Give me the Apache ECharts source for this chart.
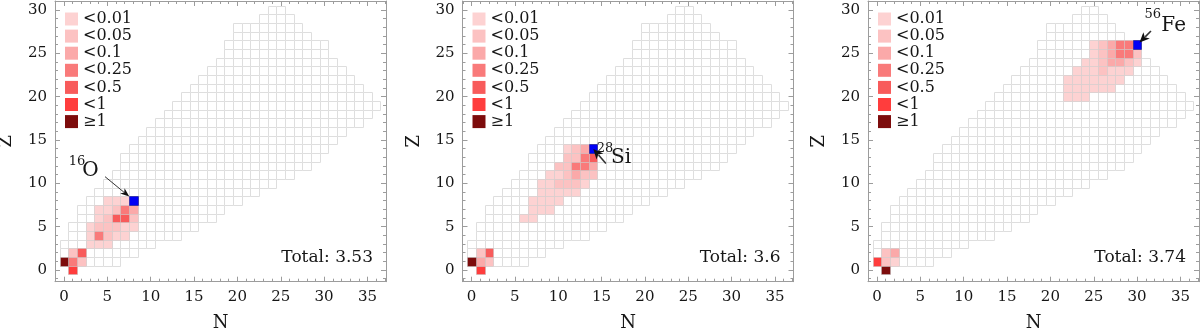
<!DOCTYPE html>
<html><head><meta charset="utf-8">
<script src="https://cdn.jsdelivr.net/npm/echarts@6/dist/echarts.min.js"></script>
<style>html,body{margin:0;padding:0;background:#fff}#c{width:1200px;height:335px}</style>
</head><body><div id="c"></div>
<script>
// ---------------- data ----------------
// network grid: for Z = 0..30, the smallest and largest N present
const zValues = [0,1,2,3,4,5,6,7,8,9,10,11,12,13,14,15,16,17,18,19,20,21,22,23,24,25,26,27,28,29,30];
const nMinByZ = [1,0,0,0,1,1,2,2,3,4,5,6,7,7,8,9,10,11,12,13,14,15,16,17,18,19,19,20,20,23,24];
const nMaxByZ = [1,6,8,10,13,15,17,18,20,22,24,26,28,29,30,31,32,34,35,36,35,34,33,32,31,30,30,28,27,26,25];

// error classes
const levelLabels = ['<0.01','<0.05','<0.1','<0.25','<0.5','<1','\u22651'];

// coloured cells: [N, Z, class index]
const cellsO16 = [
  [1,0,5],
  [0,1,6],[1,1,3],[2,1,1],
  [1,2,1],[2,2,4],
  [3,3,0],[4,3,0],[5,3,0],
  [3,4,0],[4,4,3],[5,4,1],[6,4,0],[7,4,0],
  [3,5,0],[4,5,1],[5,5,1],[6,5,1],[7,5,0],[8,5,0],
  [4,6,0],[5,6,1],[6,6,4],[7,6,4],[8,6,1],
  [4,7,0],[5,7,0],[6,7,1],[7,7,3],[8,7,2],
  [5,8,0],[6,8,0],[7,8,0]
];
const cellsSi28 = [
  [1,0,5],
  [0,1,6],[1,1,2],[2,1,1],
  [1,2,1],[2,2,4],
  [6,6,0],[7,6,0],
  [7,7,0],[8,7,0],[9,7,0],
  [7,8,0],[8,8,0],[9,8,0],[10,8,0],
  [8,9,0],[9,9,0],[10,9,0],[11,9,0],[12,9,0],
  [8,10,0],[9,10,0],[10,10,1],[11,10,1],[12,10,1],[13,10,0],
  [9,11,0],[10,11,0],[11,11,1],[12,11,2],[13,11,1],[14,11,1],
  [10,12,1],[11,12,1],[12,12,3],[13,12,3],[14,12,2],
  [11,13,1],[12,13,1],[13,13,3],[14,13,4],
  [11,14,0],[12,14,1],[13,14,2]
];
const cellsFe56 = [
  [1,0,6],
  [0,1,5],[1,1,1],[2,1,0],
  [1,2,1],[2,2,2],
  [22,20,0],[23,20,0],[24,20,0],
  [22,21,0],[23,21,0],[24,21,0],[25,21,0],[26,21,0],[27,21,0],
  [22,22,0],[23,22,0],[24,22,0],[25,22,0],[26,22,0],[27,22,0],[28,22,0],
  [23,23,0],[24,23,0],[25,23,0],[26,23,1],[27,23,0],[28,23,0],[29,23,0],
  [24,24,0],[25,24,0],[26,24,1],[27,24,2],[28,24,2],[29,24,1],[30,24,0],
  [25,25,0],[26,25,1],[27,25,2],[28,25,3],[29,25,3],[30,25,1],
  [25,26,0],[26,26,1],[27,26,2],[28,26,3],[29,26,3]
];
const panelCells = [cellsO16, cellsSi28, cellsFe56];

// highlighted target nuclide per panel: [N, Z]
const targetCells = [[8,8],[14,14],[30,26]];
const targetMass = ['16','28','56'];
const targetSymbol = ['O','Si','Fe'];
const totals = ['3.53','3.6','3.74'];

// axis ticks
const nTickLabels = [0,5,10,15,20,25,30,35];
const zTickLabels = [0,5,10,15,20,25,30];
const nMinorTicks = [-1,1,2,3,4,6,7,8,9,11,12,13,14,16,17,18,19,21,22,23,24,26,27,28,29,31,32,33,34,36,37];
const zMinorTicks = [-1,1,2,3,4,6,7,8,9,11,12,13,14,16,17,18,19,21,22,23,24,26,27,28,29,31];

// ---------------- styling / layout ----------------
const levelColors = ['#fdd2d2','#fcc2c2','#fba9a9','#f97a7a','#f85b5b','#ff3d3d','#7d0c0c'];
const TARGET_COLOR = '#0000f5';
const GRID_LINE = '#dedede';
const FRAME = '#9c9c9c';
const FONT = '"DejaVu Serif", serif';
const TXT = '#161616';
const XMIN = -1.04, XMAX = 37.14, YMIN = -1.35, YMAX = 31.04;
const gridLefts = [55, 462.5, 868];
const GW = 331, GT = 1, GH = 280.7;

// annotation anchors in data units (N, Z)
const annot = [
  {sup:[0.55,12.5], main:[2.1,11.5], from:[4.73,10.77], to:[7.53,8.47], lw:1},
  {sup:[14.45,14.0], main:[16.1,12.95], from:[15.5,12.3], to:[14.05,13.97], lw:1.6},
  {sup:[30.85,29.45], main:[32.8,28.2], from:[31.6,27.58], to:[30.28,26.25], lw:1.6}
];

// ---------------- build option ----------------
function cellRender(fill, stroke) {
  return function (params, api) {
    const n = api.value(0), z = api.value(1);
    const a = api.coord([n - 0.5, z + 0.5]);
    const b = api.coord([n + 0.5, z - 0.5]);
    const x0 = Math.round(a[0]) + 0.5, y0 = Math.round(a[1]) + 0.5;
    const x1 = Math.round(b[0]) + 0.5, y1 = Math.round(b[1]) + 0.5;
    return {type:'rect', shape:{x:x0, y:y0, width:x1-x0, height:y1-y0},
            style:{fill:fill, stroke:stroke, lineWidth:1}};
  };
}

const gridCells = [];
zValues.forEach((z, i) => {
  for (let n = nMinByZ[i]; n <= nMaxByZ[i]; n++) gridCells.push([n, z]);
});

function xAx(g, pos, ticks, len, withLabels, withLine, name) {
  return {
    type:'value', gridIndex:g, position:pos, min:XMIN, max:XMAX,
    axisLine:{show:withLine, onZero:false, lineStyle:{color:FRAME, width:1}},
    axisTick:{show:true, inside:true, length:len, customValues:ticks, lineStyle:{color:FRAME, width:1}},
    axisLabel: withLabels ? {show:true, customValues:ticks, margin:8, color:TXT, fontFamily:FONT, fontSize:15} : {show:false},
    splitLine:{show:false}, minorTick:{show:false},
    name: name || '', nameLocation:'middle', nameGap:33,
    nameTextStyle:{fontFamily:FONT, fontSize:18, color:TXT}
  };
}
function yAx(g, pos, ticks, len, withLabels, withLine, name) {
  return {
    type:'value', gridIndex:g, position:pos, min:YMIN, max:YMAX,
    axisLine:{show:withLine, onZero:false, lineStyle:{color:FRAME, width:1}},
    axisTick:{show:true, inside:true, length:len, customValues:ticks, lineStyle:{color:FRAME, width:1}},
    axisLabel: withLabels ? {show:true, customValues:ticks, margin:8, color:TXT, fontFamily:FONT, fontSize:15} : {show:false},
    splitLine:{show:false}, minorTick:{show:false},
    name: name || '', nameLocation:'middle', nameGap:39.5, nameRotate:90,
    nameTextStyle:{fontFamily:FONT, fontSize:18, color:TXT}
  };
}

const grids = [], xAxes = [], yAxes = [], series = [], legends = [];
const gridSeriesIdx = [];
for (let g = 0; g < 3; g++) {
  grids.push({left:gridLefts[g], top:GT, width:GW, height:GH, outerBoundsMode:'none', containLabel:false});
  xAxes.push(xAx(g,'bottom',nTickLabels,5,true,true,'N'));
  xAxes.push(xAx(g,'top',nTickLabels,5,false,true));
  xAxes.push(xAx(g,'bottom',nMinorTicks,3,false,false));
  xAxes.push(xAx(g,'top',nMinorTicks,3,false,false));
  yAxes.push(yAx(g,'left',zTickLabels,5,true,true,'Z'));
  yAxes.push(yAx(g,'right',zTickLabels,5,false,true));
  yAxes.push(yAx(g,'left',zMinorTicks,3,false,false));
  yAxes.push(yAx(g,'right',zMinorTicks,3,false,false));
  const xi = 4*g, yi = 4*g;
  gridSeriesIdx.push(series.length);
  series.push({type:'custom', name:'grid'+g, xAxisIndex:xi, yAxisIndex:yi, silent:true,
    encode:{x:0, y:1}, data:gridCells, renderItem:cellRender('#ffffff', GRID_LINE), z:1});
  levelLabels.forEach((lab, L) => {
    series.push({type:'custom', name:lab, xAxisIndex:xi, yAxisIndex:yi, silent:true,
      encode:{x:0, y:1}, itemStyle:{color:levelColors[L]},
      data: panelCells[g].filter(c => c[2] === L),
      renderItem:cellRender(levelColors[L], 'rgba(205,205,205,0.45)'), z:2});
  });
  series.push({type:'custom', name:'target'+g, xAxisIndex:xi, yAxisIndex:yi, silent:true,
    encode:{x:0, y:1}, data:[targetCells[g]],
    renderItem:cellRender(TARGET_COLOR, 'rgba(0,0,120,0.5)'), z:3});
  legends.push({
    orient:'vertical', left:gridLefts[g] + 10, top:11, padding:0,
    itemWidth:13, itemHeight:13, itemGap:1.1, selectedMode:false,
    textStyle:{fontFamily:FONT, fontSize:16, color:TXT, lineHeight:14},
    data: levelLabels.map((lab, L) => ({name:lab, icon:'rect', itemStyle:{color:levelColors[L], borderWidth:0}}))
  });
}

const chart = echarts.init(document.getElementById('c'), null, {renderer:'canvas'});
chart.setOption({
  animation:false, backgroundColor:'#ffffff',
  textStyle:{fontFamily:FONT},
  grid:grids, xAxis:xAxes, yAxis:yAxes, legend:legends, series:series
});

// annotations, totals
function arrow(p0, p1, w, headLen, headW) {
  const dx = p1[0]-p0[0], dy = p1[1]-p0[1], L = Math.hypot(dx, dy);
  const ux = dx/L, uy = dy/L, px = -uy, py = ux;
  const bx = p1[0]-ux*headLen, by = p1[1]-uy*headLen;
  return [
    {type:'line', z:100, shape:{x1:p0[0], y1:p0[1], x2:bx+ux*2, y2:by+uy*2}, style:{stroke:'#333', lineWidth:w}},
    {type:'polygon', z:101, shape:{points:[[p1[0],p1[1]],[bx+px*headW/2, by+py*headW/2],[bx+ux*2.5, by+uy*2.5],[bx-px*headW/2, by-py*headW/2]]},
     style:{fill:'#111'}}
  ];
}
const graphics = [];
for (let g = 0; g < 3; g++) {
  const conv = v => chart.convertToPixel({seriesIndex:gridSeriesIdx[g]}, v);
  const A = annot[g];
  const ps = conv(A.sup), pm = conv(A.main);
  graphics.push({type:'text', z:100, x:ps[0], y:ps[1],
    style:{text:targetMass[g], fontFamily:FONT, fontSize:13, fill:TXT, align:'left', verticalAlign:'middle'}});
  graphics.push({type:'text', z:100, x:pm[0], y:pm[1],
    style:{text:targetSymbol[g], fontFamily:FONT, fontSize:20, fill:TXT, align:'left', verticalAlign:'middle'}});
  arrow(conv(A.from), conv(A.to), A.lw, g === 0 ? 9 : 10, g === 0 ? 7 : 9).forEach(e => graphics.push(e));
  graphics.push({type:'text', z:100, x:gridLefts[g] + GW - 13, y:258,
    style:{text:'Total: ' + totals[g], fontFamily:FONT, fontSize:17, fill:TXT, align:'right', verticalAlign:'middle'}});
}
chart.setOption({graphic:graphics});
</script>
</body></html>
